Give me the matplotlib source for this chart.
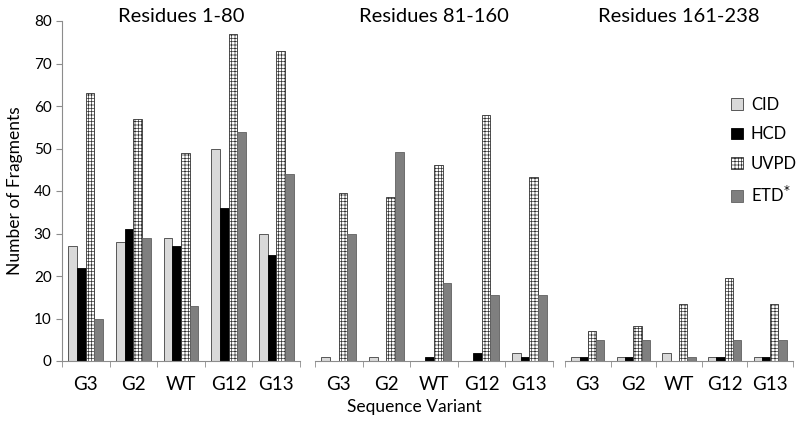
import numpy as np
import matplotlib.pyplot as plt

# =========================
# Data
# =========================
variants = ["G3", "G2", "WT", "G12", "G13"]
methods = ["CID", "HCD", "UVPD", "ETD$^{*}$"]
titles = ["Residues 1-80", "Residues 81-160", "Residues 161-238"]

cid_1 = [27, 28, 29, 50, 30]
hcd_1 = [22, 31, 27, 36, 25]
uvpd_1 = [63, 57, 49, 77, 73]
etd_1 = [10, 29, 13, 54, 44]

cid_2 = [1, 1, 0, 0, 2]
hcd_2 = [0, 0, 1, 2, 1]
uvpd_2 = [39.5, 38.5, 46.2, 57.8, 43.3]
etd_2 = [29.9, 49.2, 18.4, 15.5, 15.5]

cid_3 = [1, 1, 2, 1, 1]
hcd_3 = [1, 1, 0, 1, 1]
uvpd_3 = [7.1, 8.2, 13.3, 19.6, 13.3]
etd_3 = [5, 5, 1, 5, 5]

panels = [
    [cid_1, hcd_1, uvpd_1, etd_1],
    [cid_2, hcd_2, uvpd_2, etd_2],
    [cid_3, hcd_3, uvpd_3, etd_3],
]

# =========================
# Style
# =========================
plt.rcParams["font.family"] = ["Lato", "DejaVu Sans"]
plt.rcParams["hatch.linewidth"] = 0.5

faces = ["#d9d9d9", "black", "white", "#7f7f7f"]
edges = ["#404040", "black", "#303030", "#606060"]
hatches = [None, None, "+++++", None]
axis_gray = "#8c8c8c"

fig = plt.figure(figsize=(7.99, 4.22), dpi=100)

W, H = 799, 422
boxes = [(62, 300), (315, 553), (565, 793)]
bottom_px, top_px = 361, 21

x = np.arange(len(variants))
w = 0.182
offsets = (np.arange(4) - 1.5) * w

handles = []
for i, (x0, x1) in enumerate(boxes):
    ax = fig.add_axes([x0 / W, 1 - bottom_px / H, (x1 - x0) / W, (bottom_px - top_px) / H])
    for j, vals in enumerate(panels[i]):
        b = ax.bar(x + offsets[j], vals, w, color=faces[j], edgecolor=edges[j],
                   linewidth=0.6, hatch=hatches[j], label=methods[j])
        if i == 0:
            handles.append(b)

    ax.set_xlim(-0.5, 4.5)
    ax.set_ylim(0, 80)
    ax.set_xticks(x)
    ax.set_xticklabels(variants, fontsize=13.5)
    ax.set_xticks(np.arange(-0.5, 5, 1), minor=True)
    ax.tick_params(axis="x", which="major", length=0, pad=11)
    ax.tick_params(axis="x", which="minor", length=4, color=axis_gray, direction="out")

    for s in ["top", "right"]:
        ax.spines[s].set_visible(False)
    ax.spines["bottom"].set_color(axis_gray)

    if i == 0:
        ax.set_yticks(np.arange(0, 81, 10))
        ax.tick_params(axis="y", labelsize=11, length=4, color=axis_gray)
        ax.spines["left"].set_color(axis_gray)
        ax.set_ylabel("Number of Fragments", fontsize=12.5, labelpad=8)
    else:
        ax.spines["left"].set_visible(False)
        ax.set_yticks([])

    fig.text((x0 + x1) / 2 / W, 1 - 22 / H, titles[i], ha="center", va="baseline",
             fontsize=14.5)

fig.text(414 / W, 1 - 407 / H, "Sequence Variant", ha="center", va="center", fontsize=12.5)

fig.legend(handles=handles, labels=methods, loc="upper left",
           bbox_to_anchor=(716 / W, 1 - 82 / H), frameon=False, fontsize=12,
           handlelength=0.7, handleheight=0.7, handletextpad=0.5, labelspacing=0.8)

plt.savefig("out.png", dpi=100)
